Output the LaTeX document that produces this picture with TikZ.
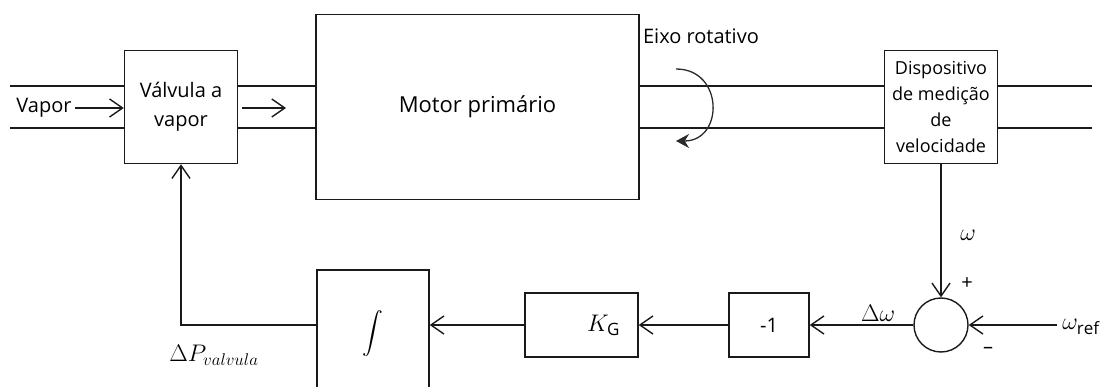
\RequirePackage{fix-cm}
\documentclass[tikz,border=0pt]{standalone}
\usepackage{exscale}
\usepackage{fontspec}
\setmainfont{Open Sans}
\usetikzlibrary{arrows.meta, positioning, calc}
\DeclareMathSizes{20}{24}{17}{12}
\DeclareMathSizes{22}{22}{16}{12}
\definecolor{rgLine}{HTML}{1A1A1A}
\definecolor{rgGray}{HTML}{2A2A2A}
\tikzset{
  rgbox/.style={rectangle, draw=rgLine, line width=1.4pt, fill=white, align=center,
                inner sep=0pt},
  rgflow/.style={-{Straight Barb[length=13pt, width=18pt, line width=1.4pt]},
                 line width=1.4pt, color=rgLine},
  rgshaft/.style={line width=1.4pt, color=rgLine},
}

\begin{document}
\begin{tikzpicture}[x=1pt, y=-1pt, font=\fontsize{20}{29}\selectfont]
  \path[use as bounding box, clip] (0,0) rectangle (1105,387);
  \node[rgbox, minimum width=113, minimum height=113](valve) at (181,107){Válvula a\\vapor};
  \node[rgbox, minimum width=323, minimum height=185, font=\fontsize{22}{29}\selectfont](motor) at (477.5,107){Motor primário};
  \node[rgbox, minimum width=113, minimum height=113, font=\fontsize{18}{26}\selectfont](device) at (941,107){Dispositivo\\de medição\\de\\velocidade};
  \node[rgbox, circle, minimum size=54](sumc) at (941,325){};
  \node[rgbox, minimum width=80, minimum height=64](neg) at (769,325){-1};
  \node[rgbox, minimum width=113, minimum height=64](kg) at (581.5,325){\hspace*{44pt}$K_{\mathrm{G}}$};
  \node[rgbox, minimum width=112, minimum height=150](integ) at (373,345){};
  \node[font=\fontsize{22}{29}\selectfont](intsym) at (373,334){$\displaystyle\int$};
  \node(vapor) at (44,108){Vapor};
  \node(eixo) at (701,36){Eixo rotativo};
  \node(omega) at (968,235){$\omega$};
  \node(plus) at (967,284){+};
  \node(minus) at (988,350){–};
  \node(dw) at (878,313){$\Delta\omega$};
  \node(wref) at (1081,327){$\omega_{\mathrm{ref}}$};
  \node(dp) at (214,355){$\Delta P_{valvula}$};
  \coordinate(inA) at (10,86);  \coordinate(inB) at (10,128);
  \coordinate(outA) at (1092,86); \coordinate(outB) at (1092,128);
  \coordinate(mid) at (286,108); \coordinate(wsrc) at (1057,325);
  \draw[rgshaft](inA)--(inA -| valve.west);\draw[rgshaft](inB)--(inB -| valve.west);
  \draw[rgshaft](valve.east |- inA)--(motor.west |- inA);\draw[rgshaft](valve.east |- inB)--(motor.west |- inB);
  \draw[rgshaft](motor.east |- inA)--(device.west |- inA);\draw[rgshaft](motor.east |- inB)--(device.west |- inB);
  \draw[rgshaft](device.east |- inA)--(outA);\draw[rgshaft](device.east |- inB)--(outB);
  \draw[rgflow](vapor.east)--(vapor.east -| valve.west);
  \draw[rgflow]($(valve.east |- mid)+(4,0)$)--(mid);
  \draw[rgflow](device.south)--(sumc.north);\draw[rgflow](wsrc)--(sumc.east);
  \draw[rgflow](sumc.west)--(neg.east);\draw[rgflow](neg.west)--(kg.east);
  \draw[rgflow](kg.west)--(kg.west -| integ.east);\draw[rgflow](integ.west |- kg.west)-|(valve.south);
  \draw[line width=1.3pt, rgGray, -{Stealth[length=13pt, width=14pt]}](676,69) .. controls (724,69) and (724,141) .. (676,141);
\end{tikzpicture}
\end{document}
